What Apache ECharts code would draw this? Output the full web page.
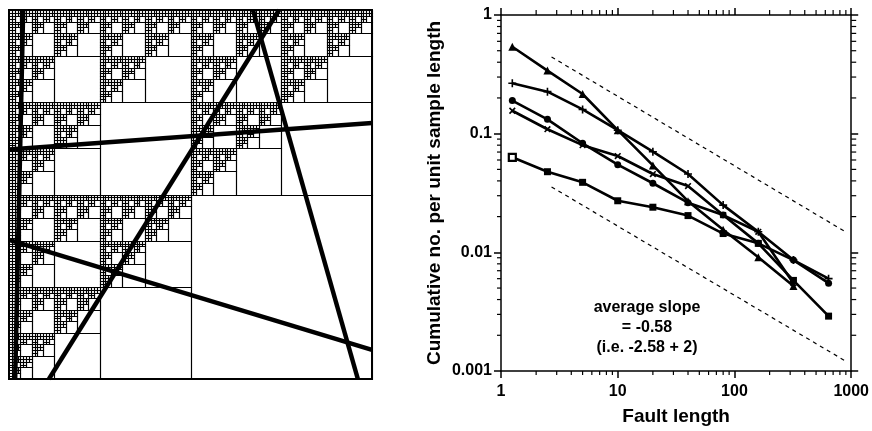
<!DOCTYPE html>
<html>
<head>
<meta charset="UTF-8" />
<script src="https://cdn.jsdelivr.net/npm/echarts@6/dist/echarts.min.js"></script>
<style>
	body { margin: 0; background: #fff; }
	#chart { width: 872px; height: 431px; }
</style>
</head>
<body>
<div id="chart"></div>
<script>
	// box sizes used for counting (x of every point)
	var faultLength = [1.25, 2.5, 5, 10, 20, 40, 80, 160, 320, 640]
	// cumulative no. per unit sample length, one list per sample line
	var triangleSet = [0.54, 0.34, 0.216, 0.107, 0.054, 0.027, 0.0155, 0.0091, 0.0052]
	var plusSet = [0.266, 0.226, 0.16, 0.107, 0.0705, 0.0457, 0.025, 0.0149, 0.0086, 0.006]
	var circleSet = [0.19, 0.132, 0.083, 0.0548, 0.0382, 0.0262, 0.0206, 0.0119, 0.0086, 0.0055]
	var crossSet = [0.156, 0.109, 0.08, 0.0648, 0.0457, 0.0362, 0.0206, 0.0149, 0.0055]
	var squareSet = [0.0632, 0.0478, 0.0389, 0.0272, 0.024, 0.0204, 0.0144, 0.0119, 0.0058, 0.0029]
	// dashed guides, slope -0.58
	var upperGuide = [[2.71, 0.443], [923, 0.0146]]
	var lowerGuide = [[2.71, 0.0356], [923, 0.00119]]

	var xTickLabels = ['1', '10', '100', '1000']
	var yTickLabels = ['1', '0.1', '0.01', '0.001']
	var minorSteps = [2, 3, 4, 5, 6, 7, 8, 9]
	var slopeNote = ['average slope', '= -0.58', '(i.e. -2.58 + 2)']

	// fractal on the left: each square is split in four, bottom right child stays empty
	var carpetDepth = 7
	var emptyChild = [1, 1]
	// fault traces, unit square, y measured from the top
	var faults = [
		[[0.039, 0], [0.017, 1]],
		[[0, 0.378], [1, 0.306]],
		[[0.11, 1], [0.744, 0]],
		[[0.672, 0], [0.961, 1]],
		[[0, 0.623], [1, 0.921]]
	]

	var cells = []
	function buildCells(x, y, size, level) {
		if (level === carpetDepth) {
			cells.push([x, y, size])
			return
		}
		var h = size / 2
		for (var i = 0; i < 2; i++) {
			for (var j = 0; j < 2; j++) {
				if (i === emptyChild[0] && j === emptyChild[1]) cells.push([x + i * h, y + j * h, h])
				else buildCells(x + i * h, y + j * h, h, level + 1)
			}
		}
	}
	buildCells(0, 0, 1, 0)

	function pairs(arr) {
		return arr.map(function (v, i) { return [faultLength[i], v] })
	}
	var xMinor = [], yMinor = []
	;[1, 10, 100].forEach(function (d) {
		minorSteps.forEach(function (s) { xMinor.push([d * s, 0.01]) })
	})
	;[0.001, 0.01, 0.1].forEach(function (d) {
		minorSteps.forEach(function (s) { yMinor.push([10, d * s]) })
	})

	var font = 'Liberation Sans, Arial, sans-serif'
	var black = '#000'
	var plusPath = 'path://M4,0h2v4h4v2h-4v4h-2v-4h-4v-2h4z'

	function lineSeries(name, arr, symbol, size, rotate) {
		return {
			name: name,
			type: 'line',
			xAxisIndex: 1,
			yAxisIndex: 1,
			data: pairs(arr),
			symbol: symbol,
			symbolSize: size,
			symbolRotate: rotate || 0,
			showSymbol: true,
			lineStyle: { color: black, width: 2.6 },
			itemStyle: { color: black, borderWidth: 0 },
			z: 5
		}
	}

	function tickLine(x1, y1, x2, y2) {
		return { type: 'line', shape: { x1: x1, y1: y1, x2: x2, y2: y2 }, style: { stroke: black, lineWidth: 1.2 } }
	}

	function snap(v) {
		return Math.round(v) + 0.5
	}

	var logAxisCommon = {
		type: 'log',
		logBase: 10,
		gridIndex: 1,
		axisLine: { show: true, lineStyle: { color: black, width: 1.5 } },
		axisTick: { show: true, inside: false, length: 7, lineStyle: { color: black, width: 1.5 } },
		splitLine: { show: false },
		minorTick: { show: false }
	}

	var squareSeries = lineSeries('square', squareSet, 'rect', 7)
	// first square of this set is drawn open
	squareSeries.data[0] = {
		value: squareSeries.data[0],
		itemStyle: { color: '#fff', borderColor: black, borderWidth: 2.2 }
	}

	var myChart = echarts.init(document.getElementById('chart'), null, { renderer: 'canvas' })
	var option = {
		animation: false,
		backgroundColor: '#fff',
		grid: [
			{ left: 9, top: 10, width: 363, height: 369, show: true, borderColor: black, borderWidth: 2, backgroundColor: 'transparent' },
			{ left: 501, top: 15, width: 353, height: 356 }
		],
		xAxis: [
			{ type: 'value', gridIndex: 0, min: 0, max: 1, show: false },
			Object.assign({}, logAxisCommon, {
				min: 1, max: 1000, position: 'bottom',
				axisLabel: {
					color: black, fontSize: 16, fontWeight: 'bold', fontFamily: font, margin: 13,
					formatter: function (v) { return xTickLabels[Math.round(Math.log10(v))] }
				},
				name: 'Fault length', nameLocation: 'middle', nameGap: 36,
				nameTextStyle: { color: black, fontSize: 19, fontWeight: 'bold', fontFamily: font }
			}),
			Object.assign({}, logAxisCommon, { min: 1, max: 1000, position: 'top', axisLabel: { show: false } })
		],
		yAxis: [
			{ type: 'value', gridIndex: 0, min: 0, max: 1, inverse: true, show: false },
			Object.assign({}, logAxisCommon, {
				min: 0.001, max: 1, position: 'left',
				axisLabel: {
					color: black, fontSize: 16, fontWeight: 'bold', fontFamily: font, margin: 9,
					formatter: function (v) { return yTickLabels[-Math.round(Math.log10(v))] }
				},
				name: 'Cumulative no. per unit sample length', nameLocation: 'middle', nameGap: 57,
				nameTextStyle: { color: black, fontSize: 19, fontWeight: 'bold', fontFamily: font }
			}),
			Object.assign({}, logAxisCommon, { min: 0.001, max: 1, position: 'right', axisLabel: { show: false } })
		],
		series: [
			{
				type: 'custom',
				xAxisIndex: 0,
				yAxisIndex: 0,
				data: cells,
				silent: true,
				renderItem: function (params, api) {
					var p0 = api.coord([api.value(0), api.value(1)])
					var p1 = api.coord([api.value(0) + api.value(2), api.value(1) + api.value(2)])
					var x0 = snap(p0[0]), y0 = snap(p0[1])
					return {
						type: 'rect',
						shape: { x: x0, y: y0, width: snap(p1[0]) - x0, height: snap(p1[1]) - y0 },
						style: { fill: 'none', stroke: black, lineWidth: 1.1 }
					}
				},
				z: 1
			}
		].concat(faults.map(function (f) {
			return {
				type: 'line', xAxisIndex: 0, yAxisIndex: 0, data: f, symbol: 'none', silent: true,
				lineStyle: { color: black, width: 4.5 }, z: 3
			}
		})).concat([
			lineSeries('triangle', triangleSet, 'triangle', 8),
			lineSeries('plus', plusSet, plusPath, 8),
			lineSeries('circle', circleSet, 'circle', 7),
			lineSeries('cross', crossSet, plusPath, 8, 45),
			squareSeries,
			{
				type: 'line', xAxisIndex: 1, yAxisIndex: 1, data: upperGuide, symbol: 'none',
				lineStyle: { color: black, width: 1.2, type: [4, 4] }
			},
			{
				type: 'line', xAxisIndex: 1, yAxisIndex: 1, data: lowerGuide, symbol: 'none',
				lineStyle: { color: black, width: 1.2, type: [4, 4] }
			},
			{
				// minor ticks on the bottom and top
				type: 'custom', xAxisIndex: 1, yAxisIndex: 1, data: xMinor, clip: false, silent: true,
				renderItem: function (params, api) {
					var b = api.coord([api.value(0), 0.001])
					var t = api.coord([api.value(0), 1])
					return { type: 'group', children: [tickLine(b[0], b[1], b[0], b[1] + 4), tickLine(t[0], t[1], t[0], t[1] - 5)] }
				}
			},
			{
				// minor ticks on the left and right
				type: 'custom', xAxisIndex: 1, yAxisIndex: 1, data: yMinor, clip: false, silent: true,
				renderItem: function (params, api) {
					var l = api.coord([1, api.value(1)])
					var r = api.coord([1000, api.value(1)])
					return { type: 'group', children: [tickLine(l[0], l[1], l[0] - 4, l[1]), tickLine(r[0], r[1], r[0] + 5, r[1])] }
				}
			}
		]),
		// one centred line of the note per text element
		graphic: slopeNote.map(function (line, i) {
			return {
				type: 'text',
				x: 647,
				y: 308 + i * 20,
				style: {
					text: line,
					align: 'center',
					verticalAlign: 'middle',
					font: 'bold 16px ' + font,
					fill: black
				}
			}
		})
	}
	myChart.setOption(option)
</script>
</body>
</html>
